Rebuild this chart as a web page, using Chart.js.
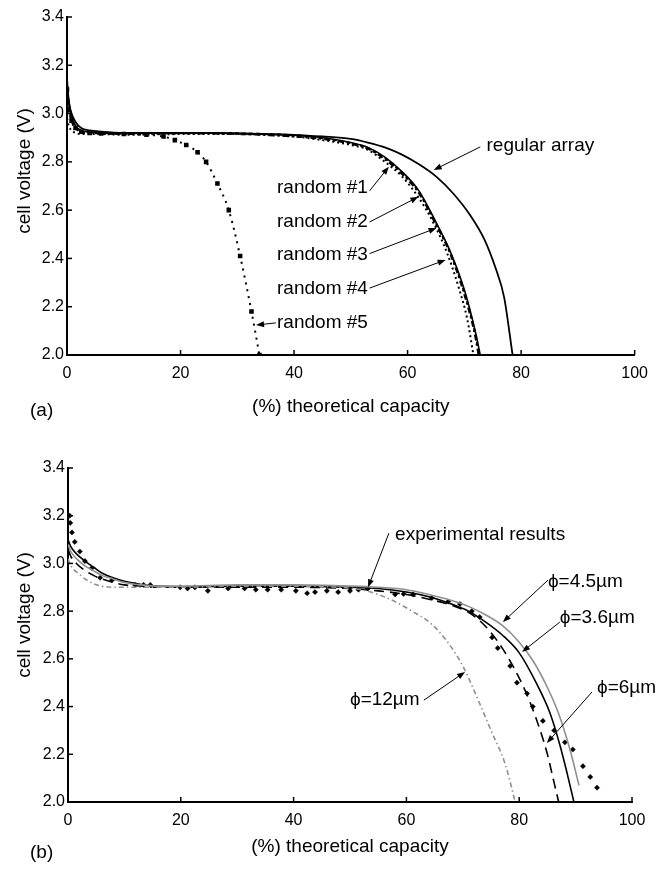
<!DOCTYPE html>
<html>
<head>
<meta charset="utf-8">
<script src="https://cdn.jsdelivr.net/npm/chart.js@4/dist/chart.umd.min.js"></script>
<style>
  html, body { margin: 0; padding: 0; background: #fff; }
  #wrap { position: relative; width: 657px; height: 869px; }
  canvas { position: absolute; left: 0; }
  #chartA { top: 0; }
  #chartB { top: 435px; }
</style>
</head>
<body>
<div id="wrap">
  <canvas id="chartA" width="657" height="435"></canvas>
  <canvas id="chartB" width="657" height="434"></canvas>
</div>
<script>
const FONT = '"Liberation Sans", Arial, Helvetica, sans-serif';

// axis ticks (both panels)
const xTicks = [0, 20, 40, 60, 80, 100];
const vTicks = [2.0, 2.2, 2.4, 2.6, 2.8, 3.0, 3.2, 3.4];

// ---- panel (a) ----
const regularX = [0, 0.3, 0.8, 1.5, 2.5, 4, 6, 10, 20, 30, 40, 45, 50, 53, 56, 59, 62, 65, 68, 71, 73.5, 75.5, 77, 78.5];
const regularV = [3.12, 3.05, 3.0, 2.965, 2.94, 2.93, 2.925, 2.92, 2.92, 2.918, 2.912, 2.905, 2.895, 2.88, 2.86, 2.83, 2.79, 2.74, 2.67, 2.58, 2.48, 2.36, 2.24, 2.0];

const rand1X = [0, 0.3, 0.8, 1.5, 2.5, 4, 6, 10, 20, 30, 40, 45, 50, 53, 56, 59, 62, 65, 67.5, 70, 72, 72.8];
const rand1V = [3.15, 3.06, 2.99, 2.95, 2.93, 2.925, 2.92, 2.918, 2.92, 2.918, 2.91, 2.90, 2.88, 2.86, 2.82, 2.76, 2.68, 2.55, 2.43, 2.27, 2.09, 2.0];
const rand2X = [0, 0.3, 0.8, 1.5, 2.5, 4, 6, 10, 20, 30, 40, 45, 50, 53, 56, 59, 62, 65, 67.5, 70, 71.8, 72.5];
const rand2V = [3.12, 3.04, 2.98, 2.945, 2.93, 2.922, 2.92, 2.915, 2.918, 2.915, 2.905, 2.895, 2.875, 2.855, 2.81, 2.75, 2.67, 2.54, 2.42, 2.25, 2.09, 2.0];
const rand3X = [0, 0.3, 0.8, 1.5, 2.5, 4, 6, 10, 20, 30, 40, 45, 50, 53, 56, 59, 62, 64.5, 67, 69, 70.5, 71.6];
const rand3V = [2.98, 2.95, 2.93, 2.92, 2.915, 2.915, 2.915, 2.912, 2.915, 2.915, 2.905, 2.89, 2.87, 2.85, 2.80, 2.74, 2.65, 2.55, 2.42, 2.28, 2.15, 2.0];
const rand4X = [0, 0.3, 0.8, 1.5, 2.5, 4, 6, 10, 20, 30, 40, 45, 50, 53, 56, 59, 62, 65, 67.5, 70, 72, 72.6];
const rand4V = [3.08, 3.02, 2.97, 2.94, 2.925, 2.92, 2.918, 2.915, 2.92, 2.918, 2.91, 2.898, 2.878, 2.858, 2.815, 2.755, 2.675, 2.545, 2.425, 2.26, 2.08, 2.0];
const rand5X = [0, 0.3, 0.8, 1.5, 2.5, 4, 6, 10, 14, 17, 19, 21, 23, 24.5, 26.5, 28.5, 30.5, 32.5, 33.9];
const rand5V = [3.10, 3.02, 2.97, 2.94, 2.925, 2.92, 2.918, 2.915, 2.912, 2.905, 2.89, 2.87, 2.84, 2.80, 2.71, 2.60, 2.41, 2.18, 2.0];

// ---- panel (b) ----
const expX = [0.3, 0.4, 0.7, 1.2, 2.1, 3.0, 4.2, 5.7, 7.8, 11.9, 13.4, 14.6, 19.9, 21.2, 22.5, 24.8, 28.4, 31.3, 33.3, 35.4, 37.8, 40.4, 42.4, 43.8, 45.9, 47.9, 50, 51.5, 53.2, 58, 59.5, 61.2, 64.5, 67.4, 69.5, 71.6, 73, 75.2, 76.2, 78.4, 79.6, 81.4, 82.4, 84.2, 86.2, 88.1, 89.5, 91.3, 92.6, 93.8];
const expV = [3.20, 3.17, 3.13, 3.09, 3.05, 3.01, 2.98, 2.94, 2.93, 2.91, 2.91, 2.91, 2.90, 2.895, 2.90, 2.885, 2.895, 2.895, 2.89, 2.89, 2.89, 2.885, 2.875, 2.88, 2.885, 2.88, 2.885, 2.89, 2.895, 2.87, 2.872, 2.87, 2.855, 2.84, 2.83, 2.80, 2.775, 2.69, 2.645, 2.57, 2.50, 2.455, 2.40, 2.34, 2.30, 2.25, 2.22, 2.15, 2.105, 2.06];

const phi45X = [0, 0.5, 1.5, 3, 4.5, 6, 8, 10, 13, 16, 20, 30, 40, 50, 55, 60, 64, 68, 71, 74, 77, 80, 82.5, 85, 87, 89, 90.6];
const phi45V = [3.08, 3.05, 3.02, 2.99, 2.97, 2.95, 2.935, 2.92, 2.91, 2.905, 2.905, 2.91, 2.91, 2.905, 2.90, 2.89, 2.87, 2.845, 2.82, 2.785, 2.74, 2.67, 2.59, 2.48, 2.37, 2.22, 2.07];
const phi36X = [0, 0.5, 1.5, 3, 4.5, 6, 8, 10, 13, 16, 20, 30, 40, 50, 55, 60, 64, 68, 71, 74, 77, 80, 83, 85.5, 87.2, 88.5, 89.7];
const phi36V = [3.10, 3.07, 3.04, 3.01, 2.985, 2.96, 2.94, 2.925, 2.912, 2.905, 2.902, 2.905, 2.905, 2.90, 2.895, 2.88, 2.86, 2.83, 2.80, 2.755, 2.70, 2.625, 2.50, 2.37, 2.24, 2.12, 2.0];
const phi6X = [0, 0.5, 1.5, 3, 4.5, 6, 8, 10, 13, 16, 20, 30, 40, 50, 55, 60, 64, 68, 71, 73, 75, 77, 79, 81, 83, 85, 86, 87];
const phi6V = [3.06, 3.03, 3.0, 2.97, 2.95, 2.935, 2.92, 2.91, 2.905, 2.90, 2.90, 2.90, 2.90, 2.895, 2.885, 2.87, 2.85, 2.825, 2.795, 2.76, 2.71, 2.645, 2.565, 2.47, 2.35, 2.2, 2.1, 2.0];
const phi12X = [0, 0.3, 1, 2, 3, 4.5, 6, 8, 12, 20, 30, 40, 48, 52, 55, 58, 61, 64, 67, 70, 72.5, 75, 77.5, 79.3];
const phi12V = [3.02, 3.0, 2.975, 2.955, 2.935, 2.915, 2.905, 2.90, 2.90, 2.90, 2.905, 2.905, 2.90, 2.89, 2.87, 2.84, 2.80, 2.755, 2.68, 2.57, 2.44, 2.30, 2.16, 2.0];

// annotation labels, text anchor (tx, ty) and arrow from (fx, fy) to (px, py), in data units
const notesA = [
  { text: 'regular array', tx: 73.9, ty: 2.866, fx: 72.8, fy: 2.862, px: 64.6, py: 2.766 },
  { text: 'random #1', tx: 37.0, ty: 2.692, fx: 53.3, fy: 2.68, px: 56.7, py: 2.78 },
  { text: 'random #2', tx: 37.0, ty: 2.551, fx: 53.3, fy: 2.551, px: 61.9, py: 2.655 },
  { text: 'random #3', tx: 37.0, ty: 2.414, fx: 53.3, fy: 2.42, px: 65.1, py: 2.526 },
  { text: 'random #4', tx: 37.0, ty: 2.273, fx: 53.3, fy: 2.277, px: 66.7, py: 2.394 },
  { text: 'random #5', tx: 37.0, ty: 2.133, fx: 36.8, fy: 2.133, px: 33.3, py: 2.124 }
];
const notesB = [
  { text: 'experimental results', tx: 58.0, ty: 3.119, fx: 56.9, fy: 3.127, px: 53.2, py: 2.90 },
  { text: '\u03D5=4.5\u00B5m', tx: 85.1, ty: 2.922, fx: 85.1, fy: 2.93, px: 77.1, py: 2.754 },
  { text: '\u03D5=3.6\u00B5m', tx: 87.2, ty: 2.771, fx: 87.2, fy: 2.754, px: 80.5, py: 2.629 },
  { text: '\u03D5=6\u00B5m', tx: 93.8, ty: 2.478, fx: 92.9, fy: 2.461, px: 84.9, py: 2.247 },
  { text: '\u03D5=12\u00B5m', tx: 50.0, ty: 2.427, fx: 63.1, fy: 2.427, px: 70.4, py: 2.545 }
];

function toPoints(xs, ys) {
  return xs.map((x, i) => ({ x: x, y: ys[i] }));
}

function lineSet(xs, ys, style) {
  return Object.assign({
    data: toPoints(xs, ys),
    borderColor: '#000',
    backgroundColor: '#000',
    borderWidth: 1.6,
    pointRadius: 0,
    fill: false,
    cubicInterpolationMode: 'monotone'
  }, style);
}

function drawArrow(ctx, x0, y0, x1, y1) {
  const ang = Math.atan2(y1 - y0, x1 - x0);
  const len = 8, half = 3;
  ctx.beginPath();
  ctx.moveTo(x0, y0);
  ctx.lineTo(x1 - Math.cos(ang) * len * 0.8, y1 - Math.sin(ang) * len * 0.8);
  ctx.stroke();
  ctx.beginPath();
  ctx.moveTo(x1, y1);
  ctx.lineTo(x1 - Math.cos(ang) * len - Math.sin(ang) * half, y1 - Math.sin(ang) * len + Math.cos(ang) * half);
  ctx.lineTo(x1 - Math.cos(ang) * len + Math.sin(ang) * half, y1 - Math.sin(ang) * len - Math.cos(ang) * half);
  ctx.closePath();
  ctx.fill();
}

// inward ticks, annotations, axis titles and panel letter
function decorations(notes, frame) {
  return {
    id: 'decorations',
    afterDatasetsDraw(chart) {
      const { ctx, chartArea, scales: { x, y } } = chart;
      ctx.save();
      ctx.strokeStyle = '#000';
      ctx.fillStyle = '#000';
      ctx.lineWidth = 1.5;
      xTicks.forEach(t => {
        const px = x.getPixelForValue(t);
        ctx.beginPath();
        ctx.moveTo(px, chartArea.bottom);
        ctx.lineTo(px, chartArea.bottom - 5);
        ctx.stroke();
      });
      vTicks.forEach(t => {
        const py = y.getPixelForValue(t);
        ctx.beginPath();
        ctx.moveTo(chartArea.left, py);
        ctx.lineTo(chartArea.left + 5, py);
        ctx.stroke();
      });

      ctx.lineWidth = 1;
      ctx.font = '19px ' + FONT;
      ctx.textBaseline = 'middle';
      ctx.textAlign = 'left';
      notes.forEach(n => {
        ctx.fillText(n.text, x.getPixelForValue(n.tx), y.getPixelForValue(n.ty));
        drawArrow(ctx, x.getPixelForValue(n.fx), y.getPixelForValue(n.fy),
                  x.getPixelForValue(n.px), y.getPixelForValue(n.py));
      });

      // axis titles
      ctx.textAlign = 'center';
      ctx.fillText('(%) theoretical capacity', (chartArea.left + chartArea.right) / 2, frame.xTitleY);
      ctx.save();
      ctx.translate(25, frame.yTitleY);
      ctx.rotate(-Math.PI / 2);
      ctx.fillText('cell voltage (V)', 0, 0);
      ctx.restore();

      ctx.textAlign = 'left';
      ctx.fillText(frame.letter, 30, frame.letterY);
      ctx.restore();
    }
  };
}

function makeChart(id, datasets, notes, frame) {
  return new Chart(document.getElementById(id), {
    type: 'line',
    data: { datasets: datasets },
    options: {
      responsive: false,
      animation: false,
      devicePixelRatio: 1,
      layout: { padding: { left: 0, top: frame.top, right: frame.right, bottom: 0 } },
      plugins: { legend: { display: false }, tooltip: { enabled: false } },
      scales: {
        x: {
          type: 'linear',
          min: 0,
          max: 100,
          afterFit: s => { s.height = frame.xAxisH; },
          afterBuildTicks: s => { s.ticks = xTicks.map(v => ({ value: v })); },
          ticks: { color: '#000', font: { family: FONT, size: 16 }, padding: 9, maxRotation: 0, autoSkip: false },
          grid: { display: false, drawTicks: false },
          border: { color: '#000', width: 2 }
        },
        y: {
          type: 'linear',
          min: 2.0,
          max: 3.4,
          afterFit: s => { s.width = frame.left; },
          afterBuildTicks: s => { s.ticks = vTicks.map(v => ({ value: v })); },
          ticks: {
            color: '#000',
            font: { family: FONT, size: 16 },
            padding: 3,
            autoSkip: false,
            callback: v => Number(v).toFixed(1)
          },
          grid: { display: false, drawTicks: false },
          border: { color: '#000', width: 2 }
        }
      }
    },
    plugins: [decorations(notes, frame)]
  });
}

makeChart('chartA', [
  lineSet(rand5X, rand5V, { borderDash: [2, 5], borderWidth: 2, pointStyle: 'rect', pointRadius: 1.8 }),
  lineSet(rand3X, rand3V, { borderDash: [2, 3], borderWidth: 2 }),
  lineSet(rand4X, rand4V, { borderDash: [4, 3], borderWidth: 2 }),
  lineSet(rand2X, rand2V, { borderDash: [6, 3, 2, 3], borderWidth: 2 }),
  lineSet(rand1X, rand1V, { borderWidth: 1.6 }),
  lineSet(regularX, regularV, { borderWidth: 1.8 })
], notesA, { top: 17, right: 20, left: 67, xAxisH: 80, xTitleY: 407, yTitleY: 171, letter: '(a)', letterY: 411 });

makeChart('chartB', [
  lineSet(phi12X, phi12V, { borderColor: '#8f8f8f', borderDash: [5, 3, 1.5, 3], borderWidth: 1.6 }),
  lineSet(phi45X, phi45V, { borderColor: '#8f8f8f', borderWidth: 1.6 }),
  lineSet(phi36X, phi36V, { borderWidth: 1.6 }),
  lineSet(phi6X, phi6V, { borderDash: [10, 6], borderWidth: 1.6 }),
  lineSet(expX, expV, { showLine: false, pointStyle: 'rectRot', pointRadius: 2.6, pointBackgroundColor: '#000', pointBorderColor: '#000', pointBorderWidth: 0.5 })
], notesB, { top: 33, right: 25, left: 68, xAxisH: 67, xTitleY: 412, yTitleY: 180, letter: '(b)', letterY: 418 });
</script>
</body>
</html>
